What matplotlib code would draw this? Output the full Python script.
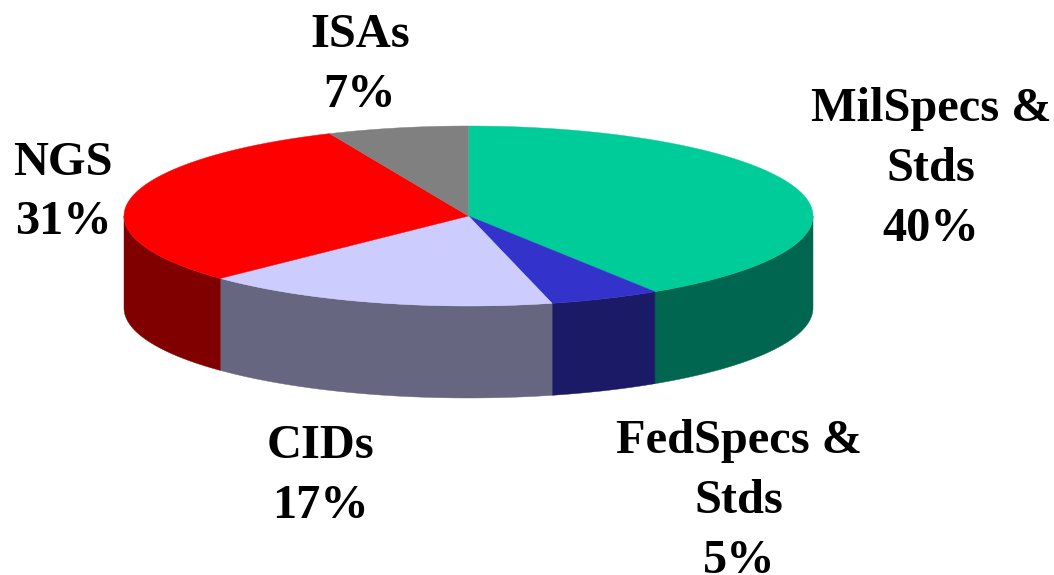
#!/usr/bin/env python3
"""Tilted pie chart with a drawn side wall, as in the old slide."""

import matplotlib
matplotlib.use('Agg')
import matplotlib.pyplot as plt
from matplotlib.patches import Polygon
import numpy as np

plt.rcParams['font.family'] = ['Liberation Serif', 'DejaVu Serif']

# slice shares as measured on the picture, the printed labels are rounded
shares = [40.9, 5.2, 16.7, 30.6, 6.6]
top_colors = ['#00CC99', '#3333CC', '#CCCCFF', '#FF0000', '#808080']
side_colors = ['#006650', '#1A1A66', '#666680', '#800000', '#404040']
labels = ['MilSpecs &\nStds\n40%', 'FedSpecs &\nStds\n5%', 'CIDs\n17%',
          'NGS\n31%', 'ISAs\n7%']
label_xy = [(931, 169), (739, 501), (320, 476), (63, 192.5), (360, 65)]

CX, CY = 468.5, 216
RX, RY = 344.5, 90
DEPTH = 92


def rim(deg):
    # clockwise from 12 o'clock, y axis runs downward
    t = np.radians(deg)
    return CX + RX * np.sin(t), CY - RY * np.cos(t)


fig = plt.figure(figsize=(10.54, 5.75), dpi=100)
ax = fig.add_axes([0, 0, 1, 1])
ax.set_xlim(0, 1054)
ax.set_ylim(575, 0)
ax.axis('off')

edges = np.concatenate([[0], np.cumsum(shares)]) / sum(shares) * 360

# side wall first, only the front half of the rim can be seen
for i, color in enumerate(side_colors):
    a, b = max(edges[i], 90), min(edges[i + 1], 270)
    if a >= b:
        continue
    x, y = rim(np.linspace(a, b, 80))
    pts = np.column_stack([np.r_[x, x[::-1]], np.r_[y, y[::-1] + DEPTH]])
    ax.add_patch(Polygon(pts, closed=True, facecolor=color, edgecolor=color, lw=0.3))

# top face
for i, color in enumerate(top_colors):
    x, y = rim(np.linspace(edges[i], edges[i + 1], 120))
    pts = np.column_stack([np.r_[CX, x], np.r_[CY, y]])
    ax.add_patch(Polygon(pts, closed=True, facecolor=color, edgecolor=color, lw=0.3))

for text, (lx, ly) in zip(labels, label_xy):
    ax.text(lx, ly, text, ha='center', va='center', fontsize=34.8, fontweight='bold',
            color='black', linespacing=1.47)

fig.savefig('out.png', dpi=100, facecolor='white')
